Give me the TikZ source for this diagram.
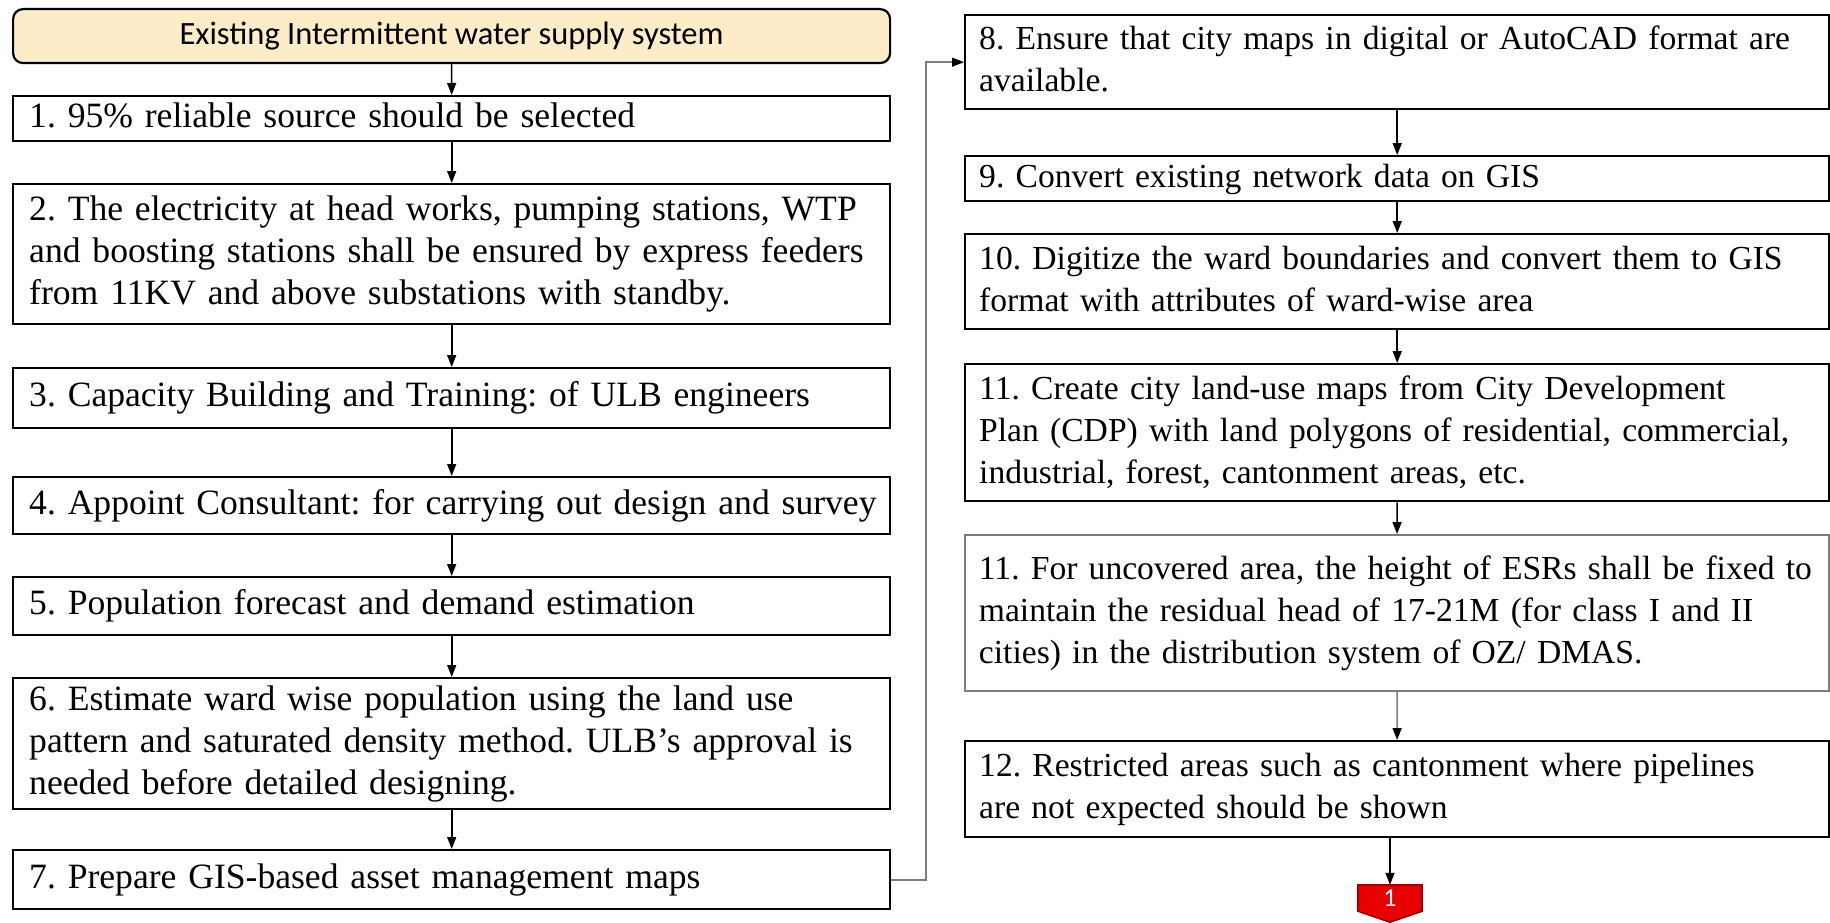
\documentclass[tikz,border=0pt]{standalone}
\usepackage{fontspec}
\setmainfont{Liberation Serif}
\newfontfamily\hdrfont{Carlito}
\usetikzlibrary{arrows.meta,backgrounds}
\definecolor{hdrfill}{RGB}{253,236,200}
\definecolor{linegray}{RGB}{125,125,125}
\definecolor{redfill}{RGB}{232,0,0}
\definecolor{redline}{RGB}{150,0,0}
\tikzset{
  flowbox/.style={draw=black, line width=2.4pt, rectangle, anchor=north west,
    inner ysep=0pt, align=left},
  leftbox/.style={flowbox, inner xsep=16pt, text width=845pt,
    font=\fontsize{35.6}{42}\selectfont},
  rightbox/.style={flowbox, inner xsep=14pt, text width=836pt,
    font=\fontsize{33.6}{42}\selectfont},
  hdrbox/.style={draw=black, line width=2.2pt, rounded corners=10pt, fill=hdrfill,
    anchor=north west, minimum width=877pt, minimum height=54pt, inner sep=0pt,
    font=\hdrfont\fontsize{32.5}{38}\selectfont},
  arr/.style={line width=1.6pt, -{Triangle[length=12pt,width=9pt]}},
  grayarr/.style={arr, draw=linegray, -{Triangle[length=12pt,width=9pt,color=black]}},
}
\newcommand{\lines}[1]{\begin{tabular}{@{}l@{}}#1\end{tabular}}
\frenchspacing
\begin{document}
\begin{tikzpicture}[x=1pt,y=-1pt]
\useasboundingbox (0,0) rectangle (1830,923);
% left column
\node[hdrbox] (h) at (12,8) {Existing Intermittent water supply system};
\node[leftbox, minimum height=45pt] (b1) at (12,95) {\lines{1. 95\% reliable source should be selected}};
\node[leftbox, minimum height=140pt] (b2) at (12,183) {\lines{2. The electricity at head works, pumping stations, WTP\\and boosting stations shall be ensured by express feeders\\from 11KV and above substations with standby.}};
\node[leftbox, minimum height=60pt] (b3) at (12,367) {\lines{3. Capacity Building and Training: of ULB engineers}};
\node[leftbox, minimum height=57pt] (b4) at (12,476) {\lines{4. Appoint Consultant: for carrying out design and survey}};
\node[leftbox, minimum height=58pt] (b5) at (12,576) {\lines{5. Population forecast and demand estimation}};
\node[leftbox, minimum height=131pt] (b6) at (12,677) {\lines{6. Estimate ward wise population using the land use\\pattern and saturated density method. ULB’s approval is\\needed before detailed designing.}};
\node[leftbox, minimum height=59pt] (b7) at (12,849) {\lines{7. Prepare GIS-based asset management maps}};
% right column
\node[rightbox, minimum height=94pt] (b8) at (964,14) {\lines{8. Ensure that city maps in digital or AutoCAD format are\\available.}};
\node[rightbox, minimum height=45pt] (b9) at (964,155) {\lines{9. Convert existing network data on GIS}};
\node[rightbox, minimum height=95pt] (b10) at (964,233) {\lines{10. Digitize the ward boundaries and convert them to GIS\\format with attributes of ward-wise area}};
\node[rightbox, minimum height=137pt] (b11) at (964,363) {\lines{11. Create city land-use maps from City Development\\Plan (CDP) with land polygons of residential, commercial,\\industrial, forest, cantonment areas, etc.}};
\node[rightbox, minimum height=156pt, draw=linegray, line width=1.8pt] (b11b) at (964,534) {\lines{11. For uncovered area, the height of ESRs shall be fixed to\\maintain the residual head of 17-21M (for class I and II\\cities) in the distribution system of OZ/ DMAS.}};
\node[rightbox, minimum height=96pt] (b12) at (964,740) {\lines{12. Restricted areas such as cantonment where pipelines\\are not expected should be shown}};
% off-page connector
\node[minimum width=64pt, minimum height=26pt, inner sep=0pt, text=white,
  font=\hdrfont\fontsize{26}{30}\selectfont] (c1) at (1390,898) {1};
\begin{scope}[on background layer]
  \filldraw[fill=redfill, draw=redline, line width=1.5pt]
    (c1.north west) -- (c1.north east) -- (c1.south east)
    -- ([yshift=-11pt]c1.south) -- (c1.south west) -- cycle;
\end{scope}
% connectors
\draw[arr] (h) -- (b1);
\draw[arr] (b1) -- (b2);
\draw[arr] (b2) -- (b3);
\draw[arr] (b3) -- (b4);
\draw[arr] (b4) -- (b5);
\draw[arr] (b5) -- (b6);
\draw[arr] (b6) -- (b7);
\coordinate (turn) at (926,0);
\draw[grayarr] (b7.east) -- (b7.east -| turn) -- (b8.west -| turn) -- (b8.west);
\draw[arr] (b8) -- (b9);
\draw[arr] (b9) -- (b10);
\draw[arr] (b10) -- (b11);
\draw[arr] (b11) -- (b11b);
\draw[grayarr] (b11b) -- (b12);
\draw[arr] (b12.south -| c1) -- (c1.north);
\end{tikzpicture}
\end{document}
